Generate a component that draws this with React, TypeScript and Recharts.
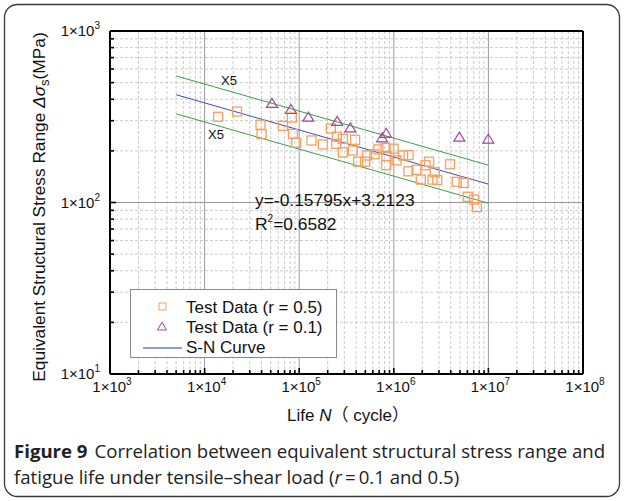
import React from 'react'
import { ScatterChart, Scatter, XAxis, YAxis, CartesianGrid, ReferenceLine } from 'recharts'

// test data, r = 0.5 (life in cycles, stress range in MPa)
const lifeR05 = [
  13900, 22000, 39000, 40000, 67300, 83700, 85800, 93000, 135000, 178000,
  216000, 250000, 246000, 289000, 390000, 289000, 369000, 420000, 498000, 522000,
  624000, 688000, 819000, 995000, 835000, 829000, 1070000, 1253000, 1433000, 1426000,
  1732000, 2167000, 2360000, 2710000, 1928000, 2569000, 2879000, 3930000, 4627000, 5458000,
  6045000, 7046000, 7544000,
]
const stressR05 = [
  316, 339, 284, 250, 280, 313, 251, 223, 230, 218,
  270, 242, 220, 235, 232, 196, 201, 173, 173, 188,
  191, 204, 208, 206, 187, 165, 176, 188, 189, 152,
  155, 165, 173, 150, 136, 136, 135, 167, 132, 130,
  108, 104, 94,
]

// test data, r = 0.1
const lifeR01 = [51500, 81700, 125000, 252000, 347000, 829000, 752000, 4930000, 9975000]
const stressR01 = [381, 351, 317, 299, 274, 255, 240, 242, 236]

// S-N curve and the x5 life band, end points
const curveLife = [5000, 10000000]
const curveStress = [425, 128]
const upperStress = [547, 165]
const lowerStress = [329, 99]

const xDecades = [1e3, 1e4, 1e5, 1e6, 1e7, 1e8]
const yDecades = [10, 100, 1000]
const minorSteps = [2, 3, 4, 5, 6, 7, 8, 9]

const minorOf = (decades: number[]) =>
  decades.slice(0, -1).flatMap((d) => minorSteps.map((m) => d * m))
const xMinor = minorOf(xDecades)
const yMinor = minorOf(yDecades)
const xTicks = [...xDecades, ...xMinor].sort((a, b) => a - b)
const yTicks = [...yDecades, ...yMinor].sort((a, b) => a - b)

const r05 = lifeR05.map((n, i) => ({ n, s: stressR05[i] }))
const r01 = lifeR01.map((n, i) => ({ n, s: stressR01[i] }))

const ORANGE = '#F5A05E'
const PURPLE = '#A3479E'
const BLUE = '#3D4FB8'
const GREEN = '#3E9E48'
const FONT = '"Liberation Sans", Arial, sans-serif'
const CJK = '"Noto Sans CJK SC", sans-serif'

const isDecade = (v: number) => {
  const e = Math.round(Math.log10(v))
  return Math.abs(v - Math.pow(10, e)) < v * 1e-9
}

const XTick = (props: any) => {
  const { x, y, payload } = props
  const v = payload.value
  const major = isDecade(v)
  const e = Math.round(Math.log10(v))
  return (
    <g>
      <line x1={x} x2={x} y1={y} y2={y - (major ? 6 : 4)} stroke="#000" strokeWidth={1.6} />
      {major && (
        <text x={x + 2} y={y + 18} textAnchor="middle" fontSize={15} fontFamily={FONT} fill="#111">
          1×10<tspan dy={-7} fontSize={10}>{e}</tspan>
        </text>
      )}
    </g>
  )
}

const YTick = (props: any) => {
  const { x, y, payload } = props
  const v = payload.value
  const major = isDecade(v)
  const e = Math.round(Math.log10(v))
  return (
    <g>
      <line x1={x} x2={x + (major ? 6 : 4)} y1={y} y2={y} stroke="#000" strokeWidth={1.6} />
      {major && (
        <text x={x - 10} y={y + 5} textAnchor="end" fontSize={15} fontFamily={FONT} fill="#111">
          1×10<tspan dy={-7} fontSize={10}>{e}</tspan>
        </text>
      )}
    </g>
  )
}

const Square = (props: any) => {
  const { cx, cy } = props
  return <rect x={cx - 4.5} y={cy - 4.5} width={9} height={9} fill="none" stroke={ORANGE} strokeWidth={1.3} />
}

const Triangle = (props: any) => {
  const { cx, cy } = props
  return (
    <path
      d={`M${cx},${cy - 4.5}L${cx + 5.5},${cy + 4.5}L${cx - 5.5},${cy + 4.5}Z`}
      fill="none"
      stroke={PURPLE}
      strokeWidth={1.2}
    />
  )
}

const seg = (life: number[], stress: number[]) => [
  { x: life[0], y: stress[0] },
  { x: life[1], y: stress[1] },
]

const App = () => {
  return (
    <div style={{ position: 'absolute', left: 0, top: 0, width: 624, height: 501, background: '#fff' }}>
      <ScatterChart width={624} height={400} margin={{ top: 31, right: 41, bottom: 0, left: 10 }}>
        <CartesianGrid
          verticalValues={xMinor}
          horizontalValues={yMinor}
          stroke="#cccccc"
          strokeDasharray="3 2"
        />
        <CartesianGrid verticalValues={xDecades} horizontalValues={yDecades} stroke="#9a9a9a" />
        <XAxis
          type="number"
          dataKey="n"
          scale="log"
          domain={[1e3, 1e8]}
          ticks={xTicks}
          interval={0}
          height={26}
          tickSize={0}
          tickMargin={0}
          tickLine={false}
          axisLine={{ stroke: '#000', strokeWidth: 2 }}
          tick={<XTick />}
          allowDataOverflow
        />
        <YAxis
          type="number"
          dataKey="s"
          scale="log"
          domain={[10, 1000]}
          ticks={yTicks}
          interval={0}
          width={100}
          tickSize={0}
          tickMargin={0}
          tickLine={false}
          axisLine={{ stroke: '#000', strokeWidth: 2 }}
          tick={<YTick />}
          allowDataOverflow
        />
        <ReferenceLine y={1000} stroke="#000" strokeWidth={2} />
        <ReferenceLine x={1e8} stroke="#000" strokeWidth={2} />
        <ReferenceLine segment={seg(curveLife, upperStress)} stroke={GREEN} strokeWidth={1} />
        <ReferenceLine segment={seg(curveLife, lowerStress)} stroke={GREEN} strokeWidth={1} />
        <ReferenceLine segment={seg(curveLife, curveStress)} stroke={BLUE} strokeWidth={1} />
        <Scatter data={r05} shape={<Square />} isAnimationActive={false} />
        <Scatter data={r01} shape={<Triangle />} isAnimationActive={false} />
      </ScatterChart>

      <svg
        width={624}
        height={501}
        style={{ position: 'absolute', left: 0, top: 0, pointerEvents: 'none' }}
      >
        <rect x={4.5} y={4.5} width={615} height={492} rx={13} fill="none" stroke="#3a3a3a" strokeWidth={1.3} />

        <text x={229} y={85} textAnchor="middle" fontSize={13} fontFamily={FONT} fill="#111">X5</text>
        <text x={216} y={139} textAnchor="middle" fontSize={13} fontFamily={FONT} fill="#111">X5</text>

        <text x={255} y={206} fontSize={17.4} fontFamily={FONT} fill="#111">y=-0.15795x+3.2123</text>
        <text x={255} y={230} fontSize={17.4} fontFamily={FONT} fill="#111">
          R<tspan dy={-8} fontSize={10}>2</tspan><tspan dy={8}>=0.6582</tspan>
        </text>

        <g>
          <rect x={130.5} y={289.5} width={206} height={68} fill="#fff" stroke="#8a8a8a" strokeWidth={1} />
          <rect x={159} y={303} width={7} height={7} fill="none" stroke={ORANGE} strokeWidth={1} />
          <text x={186} y={313} fontSize={17} fontFamily={FONT} fill="#111">Test Data (r = 0.5)</text>
          <path d="M162,322L166.5,330L157.5,330Z" fill="none" stroke={PURPLE} strokeWidth={1} />
          <text x={186} y={333} fontSize={17} fontFamily={FONT} fill="#111">Test Data (r = 0.1)</text>
          <line x1={143} x2={182} y1={348} y2={348} stroke="#283c96" strokeWidth={1.2} />
          <text x={186} y={353} fontSize={17} fontFamily={FONT} fill="#111">S-N Curve</text>
        </g>

        <text
          transform="translate(45,207) rotate(-90)"
          textAnchor="middle"
          fontSize={17.3}
          fontFamily={FONT}
          fill="#111"
        >
          Equivalent Structural Stress Range <tspan fontStyle="italic">Δσ</tspan>
          <tspan dy={4} fontSize={13}>s</tspan>
          <tspan dy={-4}>(MPa)</tspan>
        </text>

        <text x={348} y={421} textAnchor="middle" fontSize={17} fontFamily={FONT} fill="#111">
          Life <tspan fontStyle="italic">N</tspan>
          <tspan fontFamily={CJK}>（</tspan> cycle
          <tspan fontFamily={CJK}>）</tspan>
        </text>

        <text x={14} y={458} fontSize={18.6} fontFamily='"Open Sans", sans-serif' fill="#222">
          <tspan fontWeight="bold">Figure 9</tspan>
          <tspan dx={7}>Correlation between equivalent structural stress range and</tspan>
        </text>
        <text x={14} y={484} fontSize={18.6} fontFamily='"Open Sans", sans-serif' fill="#222">
          fatigue life under tensile–shear load (<tspan fontStyle="italic">r</tspan>
          <tspan>{'\u2009=\u20090.1 and 0.5)'}</tspan>
        </text>
      </svg>
    </div>
  )
}

export default App
